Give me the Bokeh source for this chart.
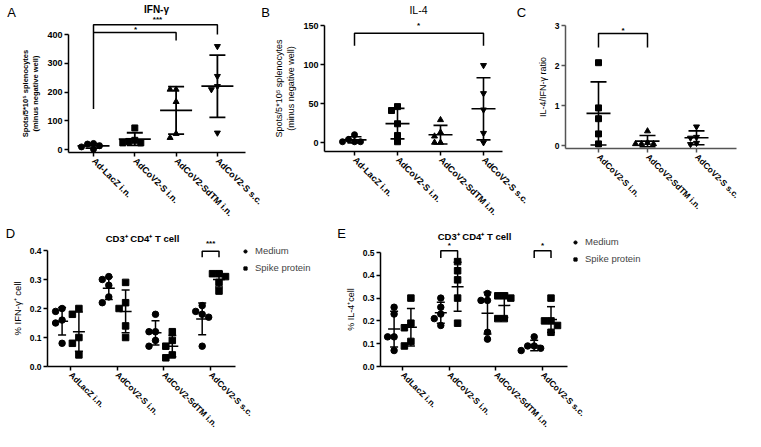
import math
import numpy as np
from bokeh.plotting import figure
from bokeh.layouts import column, row
from bokeh.models import FixedTicker, Label, Legend, LegendItem, Range1d, PrintfTickFormatter
from bokeh.embed import file_html
from bokeh.resources import INLINE

FONT = "Liberation Sans"

# ---------------- data ----------------
groups_top = ["Ad-LacZ i.n.", "AdCoV2-S i.n.", "AdCoV2-SdTM i.n.", "AdCoV2-S s.c."]
groups_ratio = ["AdCoV2-S i.n.", "AdCoV2-SdTM i.n.", "AdCoV2-S s.c."]
groups_bottom = ["AdLacZ i.n.", "AdCoV2-S i.n.", "AdCoV2-SdTM i.n.", "AdCoV2-S s.c."]

# A: IFN-gamma spots
ifng_lacz = [21, 13, 1, 9, 19]
ifng_s_in = [28, 75, 23, 23, 32]
ifng_sdtm_in = [209, 209, 166, 55, 41]
ifng_s_sc = [359, 255, 220, 209, 58]

# B: IL-4 spots
il4_lacz = [1, 1, 10, 1, 4]
il4_s_in = [41, 46, 24, 1, 9]
il4_sdtm_in = [29, 13, 8, 0, 0]
il4_s_sc = [99, 63, 42, 12, 0]

# C: IL-4 / IFN-gamma ratio
ratio_s_in = [2.07, 0.94, 0.67, 0.29, 0.04]
ratio_sdtm_in = [0.36, 0.07, 0.04, 0.04, 0.04]
ratio_s_sc = [0.47, 0.19, 0.21, 0.03, 0.06]

# D: % IFN-gamma+ of CD3+CD4+ T cells (per group)
ifng_cd4_medium = [[0.20, 0.19, 0.16, 0.15, 0.08], [0.31, 0.30, 0.28, 0.24, 0.22],
                   [0.18, 0.12, 0.12, 0.09, 0.07], [0.21, 0.19, 0.18, 0.17, 0.07]]
ifng_cd4_spike = [[0.20, 0.18, 0.10, 0.08, 0.04], [0.29, 0.22, 0.20, 0.14, 0.10],
                  [0.12, 0.09, 0.07, 0.04, 0.03], [0.32, 0.32, 0.31, 0.29, 0.26]]

# E: % IL-4+ of CD3+CD4+ T cells (per group)
il4_cd4_medium = [[0.26, 0.23, 0.13, 0.13, 0.07], [0.30, 0.26, 0.23, 0.21, 0.18],
                  [0.32, 0.29, 0.29, 0.15, 0.12], [0.13, 0.09, 0.09, 0.08, 0.07]]
il4_cd4_spike = [[0.30, 0.19, 0.17, 0.11, 0.09], [0.46, 0.42, 0.38, 0.30, 0.19],
                 [0.31, 0.31, 0.30, 0.21, 0.21], [0.30, 0.20, 0.20, 0.18, 0.15]]


# ---------------- helpers ----------------
class Geo:
    def __init__(self, page_left, page_top, first_cat, spacing, zero_y, sy):
        self.pl, self.pt = page_left, page_top
        self.first, self.sx = first_cat, spacing
        self.zero, self.sy = zero_y, sy

    def x(self, X):
        return 1 + (X - self.first) / self.sx

    def y(self, Y):
        return (self.zero - Y) / self.sy


def make_panel(page_left, page_top, W, H, first_cat, spacing, zero_y, sy):
    g = Geo(page_left, page_top, first_cat, spacing, zero_y, sy)
    p = figure(width=W, height=H,
               x_range=Range1d(g.x(page_left), g.x(page_left + W)),
               y_range=Range1d(g.y(page_top + H), g.y(page_top)),
               min_border_left=0, min_border_right=0, min_border_top=0, min_border_bottom=0,
               output_backend="svg", toolbar_location=None)
    p.grid.visible = False
    p.outline_line_color = None
    p.background_fill_color = "white"
    p.border_fill_color = "white"
    return p, g


def style_axes(p, g, labels, yticks, ytop, ax_left, ax_right, ax_bottom, ylabel,
               ylabel_style, ylabel_size, tick_size, xtick_size, axis_color="black", yfmt=None):
    ticks = list(range(1, len(labels) + 1))
    xa = p.xaxis[0]
    ya = p.yaxis[0]
    xa.fixed_location = g.y(ax_bottom)
    xa.bounds = (g.x(ax_left), g.x(ax_right))
    ya.fixed_location = g.x(ax_left)
    ya.bounds = (g.y(ax_bottom), ytop)
    xa.ticker = FixedTicker(ticks=ticks)
    xa.major_label_overrides = {t: l for t, l in zip(ticks, labels)}
    xa.major_label_orientation = -math.pi / 4
    ya.ticker = FixedTicker(ticks=yticks)
    if yfmt:
        ya.formatter = PrintfTickFormatter(format=yfmt)
    ya.axis_label = ylabel
    ya.axis_label_text_font = FONT
    ya.axis_label_text_font_style = ylabel_style
    ya.axis_label_text_font_size = ylabel_size
    ya.axis_label_text_color = "black"
    for ax in (xa, ya):
        ax.axis_line_color = axis_color
        ax.axis_line_width = 1.5
        ax.major_tick_line_color = axis_color
        ax.major_tick_line_width = 1.5
        ax.major_tick_out = 4
        ax.major_tick_in = 0
        ax.minor_tick_line_color = None
        ax.major_label_text_font = FONT
        ax.major_label_text_font_style = "bold"
        ax.major_label_text_color = "black"
    ya.major_label_text_font_size = tick_size
    xa.major_label_text_font_size = xtick_size
    xa.major_label_standoff = 3
    ya.major_label_standoff = 2
    ya.axis_label_standoff = 4


def swarm(vals, ppx_y, size):
    pts = []
    offs = [0.0] * len(vals)
    order = sorted(range(len(vals)), key=lambda i: -vals[i])
    cands = [0, -1, 1, -2, 2, -3, 3, -4, 4]
    for i in order:
        ypx = vals[i] * ppx_y
        xpx = 0.0
        for c in cands:
            xpx = c * size
            if all((xpx - a) ** 2 + (ypx - b) ** 2 >= (size * 0.95) ** 2 for a, b in pts):
                break
        pts.append((xpx, ypx))
        offs[i] = xpx
    return offs


def draw_group(p, g, xc, vals, marker, size, mean_hw, cap_hw, lw):
    offs = swarm(vals, g.sy, size)
    xs = [xc + o / g.sx for o in offs]
    r = p.scatter(xs, vals, marker=marker, size=size, fill_color="black", line_color="black")
    m = float(np.mean(vals))
    s = float(np.std(vals, ddof=1))
    mh = mean_hw / g.sx
    ch = cap_hw / g.sx
    p.segment(x0=[xc - mh, xc, xc - ch, xc - ch], y0=[m, m - s, m + s, m - s],
              x1=[xc + mh, xc, xc + ch, xc + ch], y1=[m, m + s, m + s, m - s],
              line_color="black", line_width=lw)
    return r


def text_page(p, g, X, Y, text, size, style="normal"):
    p.add_layout(Label(x=g.x(X), y=g.y(Y), text=text, text_font=FONT, text_font_size=size,
                       text_font_style=style, text_align="center", text_baseline="middle",
                       text_color="black"))


def text_data(p, x, y, text, size="8px", style="bold"):
    p.add_layout(Label(x=x, y=y, text=text, text_font=FONT, text_font_size=size,
                       text_font_style=style, text_align="center", text_baseline="middle",
                       text_color="black"))


def bracket(p, xa, xb, ytop, ya_end, yb_end, lw=1.5):
    p.line([xa, xa, xb, xb], [ya_end, ytop, ytop, yb_end], line_color="black", line_width=lw)


def add_legend(p, g, r_med, r_spk, X_left, Y_bottom, H):
    # legend location = its bottom-left corner, measured from the frame's bottom-left
    leg = Legend(items=[LegendItem(label="Medium", renderers=[r_med]),
                        LegendItem(label="Spike protein", renderers=[r_spk])],
                 location=(X_left - g.pl, g.pt + H - Y_bottom),
                 border_line_color=None, background_fill_alpha=0,
                 label_text_font=FONT, label_text_font_size="9.5px", glyph_width=8,
                 glyph_height=8, label_standoff=6, spacing=6, padding=0, margin=0,
                 label_height=11)
    p.add_layout(leg)


markers4 = ["circle", "square", "triangle", "inverted_triangle"]

TOP_H = 226
BOT_H = 205

# ---------------- A ----------------
pA, gA = make_panel(0, 0, 270, TOP_H, 93, 41.3, 149, 0.2875)
style_axes(pA, gA, groups_top, [0, 100, 200, 300, 400], 400, 68, 245, 152,
           "Spots/5*10\u2075 splenocytes\n(minus negative well)", "bold", "7.5px", "9px", "9px")
for i, vals in enumerate([ifng_lacz, ifng_s_in, ifng_sdtm_in, ifng_s_sc]):
    draw_group(pA, gA, i + 1, vals, markers4[i], 6, 16, 8, 1.8)
bracket(pA, 1, 4, 434, 141, 400)
bracket(pA, 1, 3, 407, 407, 379)
text_page(pA, gA, 157, 19, "***", "8px", "bold")
text_page(pA, gA, 135, 29, "*", "8px", "bold")
text_page(pA, gA, 11, 12, "A", "13px")
text_page(pA, gA, 156, 9, "IFN-\u03b3", "10px", "bold")
text_page(pA, gA, 265, 12, "B", "13px")

# ---------------- B ----------------
pB, gB = make_panel(270, 0, 268, TOP_H, 354, 43, 142, 0.78)
style_axes(pB, gB, groups_top, [0, 50, 100, 150], 150, 324, 502, 151,
           "Spots/5*10\u2075 splenocytes\n(minus negative well)", "normal", "9px", "9px", "9px")
for i, vals in enumerate([il4_lacz, il4_s_in, il4_sdtm_in, il4_s_sc]):
    draw_group(pB, gB, i + 1, vals, markers4[i], 6, 12, 7, 1.6)
bracket(pB, 1, 4, 140, 124, 124)
text_page(pB, gB, 418, 25, "*", "8px", "bold")
text_page(pB, gB, 418, 9, "IL-4", "10.5px")
text_page(pB, gB, 521, 12, "C", "13px")

# ---------------- C ----------------
pC, gC = make_panel(538, 0, 207, TOP_H, 598, 49, 145, 40)
style_axes(pC, gC, groups_ratio, [0, 1, 2, 3], 3, 565, 736, 148,
           "IL-4/IFN-\u03b3 ratio", "normal", "9px", "8.5px", "8.5px", axis_color="#555555")
for i, vals in enumerate([ratio_s_in, ratio_sdtm_in, ratio_s_sc]):
    draw_group(pC, gC, i + 1, vals, markers4[i + 1], 6, 12, 8, 1.6)
bracket(pC, 1, 2, 2.8, 2.45, 2.45)
text_page(pC, gC, (598 + 647) / 2, 30, "*", "8px", "bold")

# ---------------- D ----------------
OFF = 0.18
pD, gD = make_panel(0, TOP_H, 336, BOT_H, 70, 46.7, 366, 290)
style_axes(pD, gD, groups_bottom, [0, 0.1, 0.2, 0.3, 0.4], 0.4, 47, 235, 366,
           "% IFN-\u03b3\u207a cell", "normal", "9.5px", "8.5px", "8.5px", yfmt="%.1f")
rD_med = rD_spk = None
for i in range(4):
    r1 = draw_group(pD, gD, i + 1 - OFF, ifng_cd4_medium[i], "circle", 6.5, 6, 4, 1.5)
    r2 = draw_group(pD, gD, i + 1 + OFF, ifng_cd4_spike[i], "square", 6.5, 6, 4, 1.5)
    if rD_med is None:
        rD_med, rD_spk = r1, r2
bracket(pD, 4 - OFF, 4 + OFF, 0.397, 0.377, 0.377)
text_data(pD, 4, 0.423, "***")
text_page(pD, gD, 10, 233, "D", "13px")
text_page(pD, gD, 142, 238, "CD3\u207a CD4\u207a T cell", "9.5px", "bold")
add_legend(pD, gD, rD_med, rD_spk, 241, 273, BOT_H)

# ---------------- E ----------------
pE, gE = make_panel(336, TOP_H, 409, BOT_H, 402, 46.7, 366, 228)
style_axes(pE, gE, groups_bottom, [0, 0.1, 0.2, 0.3, 0.4, 0.5], 0.5, 380, 567, 366,
           "% IL-4\u207acell", "normal", "9px", "8.5px", "8.5px", yfmt="%.1f")
rE_med = rE_spk = None
for i in range(4):
    r1 = draw_group(pE, gE, i + 1 - OFF, il4_cd4_medium[i], "circle", 6.5, 6, 4, 1.5)
    r2 = draw_group(pE, gE, i + 1 + OFF, il4_cd4_spike[i], "square", 6.5, 6, 4, 1.5)
    if rE_med is None:
        rE_med, rE_spk = r1, r2
for grp in (2, 4):
    bracket(pE, grp - OFF, grp + OFF, 0.508, 0.476, 0.476)
    text_data(pE, grp, 0.532, "*")
text_page(pE, gE, 341, 233, "E", "13px")
text_page(pE, gE, 474, 236, "CD3\u207a CD4\u207a T cell", "9.5px", "bold")
add_legend(pE, gE, rE_med, rE_spk, 571, 264, BOT_H)

layout = column(row(pA, pB, pC), row(pD, pE))
open("out.html", "w").write(file_html(layout, INLINE))
